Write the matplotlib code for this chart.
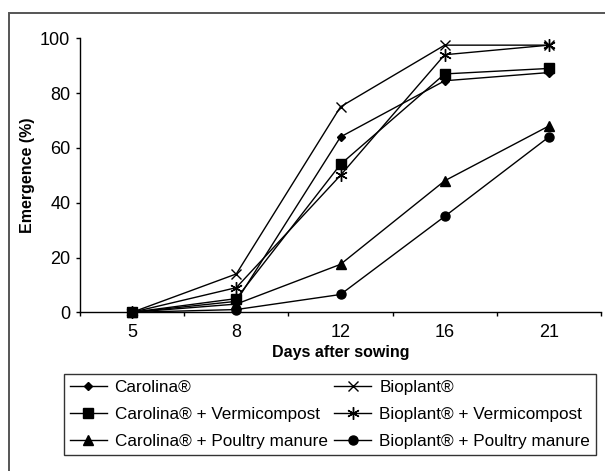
import matplotlib
matplotlib.use("Agg")
import matplotlib.pyplot as plt
from matplotlib.patches import Rectangle

plt.rcParams['font.family'] = ['Liberation Sans', 'DejaVu Sans']

days = ["5", "8", "12", "16", "21"]
carolina = [0, 4, 64, 84.5, 87.5]
bioplant = [0, 14, 75, 97.5, 97.5]
carolina_vermi = [0, 5, 54, 87, 89]
bioplant_vermi = [0, 9, 50, 94, 97.5]
carolina_poultry = [0, 3, 17.5, 48, 68]
bioplant_poultry = [0, 1, 6.5, 35, 64]

labels = ["Carolina®", "Carolina® + Vermicompost", "Carolina® + Poultry manure",
          "Bioplant®", "Bioplant® + Vermicompost", "Bioplant® + Poultry manure"]

W, H = 605, 471
fig = plt.figure(figsize=(W/100, H/100), dpi=100)

# outer frame
fig.patches.append(Rectangle((8.5/W, -0.1), 1.2, (H-13)/H + 0.1, transform=fig.transFigure,
                             fill=False, edgecolor='#555555', linewidth=1.4))

ax = fig.add_axes([80/W, (H-312.3)/H, 521/W, (312.3-38.3)/H])
x = list(range(len(days)))
series = [carolina, carolina_vermi, carolina_poultry, bioplant, bioplant_vermi, bioplant_poultry]
markers = ['D', 's', '^', 'x', (6, 2, 0), 'o']
msizes = [4.5, 7.5, 7.5, 7, 9, 6.5]
handles = []
for ys, m, ms, lab in zip(series, markers, msizes, labels):
    h, = ax.plot(x, ys, color='black', lw=1, marker=m, markersize=ms,
                 markerfacecolor='black', markeredgecolor='black', markeredgewidth=1, label=lab,
                 clip_on=False)
    handles.append(h)

ax.set_xlim(-0.5, len(days) - 0.5)
ax.set_ylim(0, 100)
ax.set_xticks(x)
ax.set_xticklabels(days)
ax.set_xticks([i - 0.5 for i in range(len(days) + 1)], minor=True)
ax.tick_params(axis='x', which='major', length=0, labelsize=13, pad=8.5)
ax.tick_params(axis='x', which='minor', length=3, direction='out', width=1)
ax.set_yticks([0, 20, 40, 60, 80, 100])
ax.tick_params(axis='y', length=3, direction='out', width=1, labelsize=13, pad=4)
for s in ['top', 'right']:
    ax.spines[s].set_visible(False)
for s in ['left', 'bottom']:
    ax.spines[s].set_linewidth(1)
ax.set_xlabel("Days after sowing", fontsize=11.5, fontweight='bold')
ax.set_ylabel("Emergence (%)", fontsize=11.5, fontweight='bold')
ax.xaxis.set_label_coords(0.5, -(345 - 312.3) / 274)
ax.yaxis.set_label_coords((35 - 80) / 521, 0.5)

leg = fig.legend(handles=handles, labels=labels, ncol=2, loc='upper left',
                 bbox_to_anchor=(64/W, 1 - 374/H), fontsize=12.3, frameon=True,
                 fancybox=False, edgecolor='black', handlelength=2.16, handletextpad=0.47,
                 columnspacing=0.4, labelspacing=0.72, borderpad=0.33, borderaxespad=0)
leg.get_frame().set_linewidth(1)

fig.savefig("out.png", dpi=100)
